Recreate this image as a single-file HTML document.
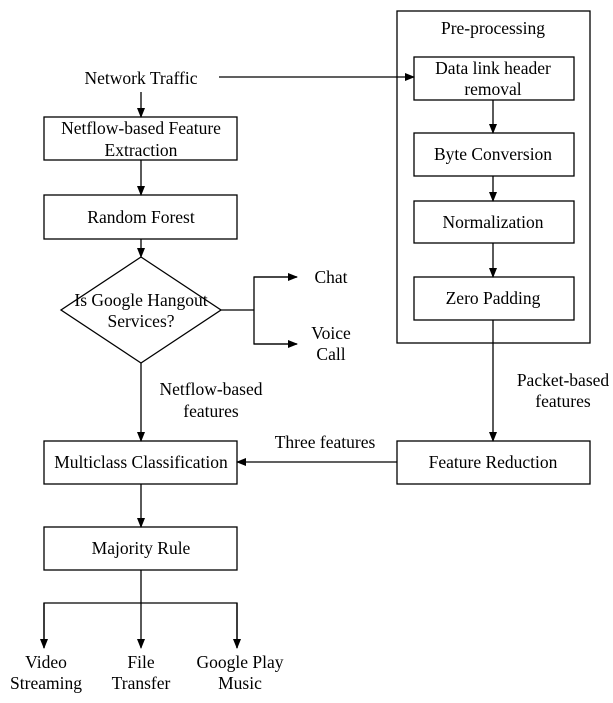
<!DOCTYPE html>
<html><head><style>
body{margin:0;background:#fff;}
svg text{font-family:"Liberation Serif",serif;font-size:17.5px;fill:#000;}
</style></head><body>
<svg width="613" height="698" viewBox="0 0 613 698" xmlns="http://www.w3.org/2000/svg">
<defs><marker id="a" markerWidth="10" markerHeight="10" refX="9" refY="4" orient="auto" markerUnits="userSpaceOnUse"><path d="M0,0 L10,4 L0,8 Z" fill="#000"/></marker></defs>
<g fill="none" stroke="#000" stroke-width="1.3">
<rect x="44" y="117" width="193" height="43"/>
<rect x="44" y="195" width="193" height="44"/>
<polygon points="141,257 221,310 141,363 61,310"/>
<rect x="44" y="441" width="193" height="43"/>
<rect x="44" y="527" width="193" height="43"/>
<rect x="397" y="11" width="193" height="332"/>
<rect x="414" y="57" width="160" height="43"/>
<rect x="414" y="133" width="160" height="43"/>
<rect x="414" y="201" width="160" height="42"/>
<rect x="414" y="277" width="160" height="43"/>
<rect x="397" y="441" width="193" height="43"/>
<line x1="141" y1="92" x2="141" y2="117" marker-end="url(#a)"/>
<line x1="141" y1="160" x2="141" y2="195" marker-end="url(#a)"/>
<line x1="141" y1="239" x2="141" y2="257" marker-end="url(#a)"/>
<line x1="141" y1="363" x2="141" y2="441" marker-end="url(#a)"/>
<line x1="141" y1="484" x2="141" y2="527" marker-end="url(#a)"/>
<polyline points="221,310 254,310"/>
<polyline points="297,277 254,277 254,344 297,344" />
<line x1="254" y1="277" x2="297" y2="277" marker-end="url(#a)"/>
<line x1="254" y1="344" x2="297" y2="344" marker-end="url(#a)"/>
<line x1="219" y1="77" x2="414" y2="77" marker-end="url(#a)"/>
<line x1="493" y1="100" x2="493" y2="133" marker-end="url(#a)"/>
<line x1="493" y1="176" x2="493" y2="201" marker-end="url(#a)"/>
<line x1="493" y1="243" x2="493" y2="277" marker-end="url(#a)"/>
<line x1="493" y1="320" x2="493" y2="441" marker-end="url(#a)"/>
<line x1="397" y1="462" x2="237" y2="462" marker-end="url(#a)"/>
<polyline points="141,570 141,603"/>
<polyline points="44,648 44,603 237,603 237,648"/>
<line x1="44" y1="603" x2="44" y2="648" marker-end="url(#a)"/>
<line x1="141" y1="603" x2="141" y2="648" marker-end="url(#a)"/>
<line x1="237" y1="603" x2="237" y2="648" marker-end="url(#a)"/>
</g>
<g text-anchor="middle">
<text x="141" y="84">Network Traffic</text>
<text x="141" y="134">Netflow-based Feature</text>
<text x="141" y="156">Extraction</text>
<text x="141" y="223">Random Forest</text>
<text x="141" y="306">Is Google Hangout</text>
<text x="141" y="327">Services?</text>
<text x="331" y="283">Chat</text>
<text x="331" y="339">Voice</text>
<text x="331" y="360">Call</text>
<text x="211" y="395">Netflow-based</text>
<text x="211" y="417">features</text>
<text x="141" y="468">Multiclass Classification</text>
<text x="141" y="554">Majority Rule</text>
<text x="46" y="668">Video</text>
<text x="46" y="689">Streaming</text>
<text x="141" y="668">File</text>
<text x="141" y="689">Transfer</text>
<text x="240" y="668">Google Play</text>
<text x="240" y="689">Music</text>
<text x="493" y="34">Pre-processing</text>
<text x="493" y="74">Data link header</text>
<text x="493" y="95">removal</text>
<text x="493" y="160">Byte Conversion</text>
<text x="493" y="228">Normalization</text>
<text x="493" y="304">Zero Padding</text>
<text x="563" y="386">Packet-based</text>
<text x="563" y="407">features</text>
<text x="325" y="448">Three features</text>
<text x="493" y="468">Feature Reduction</text>
</g>
</svg>
</body></html>
